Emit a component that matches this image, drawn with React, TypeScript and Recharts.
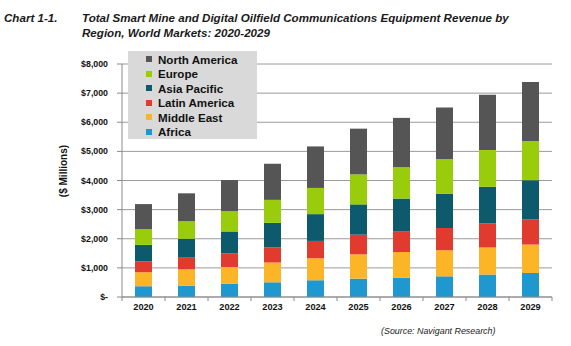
import React from 'react';
import { BarChart, Bar, XAxis, YAxis, CartesianGrid, Legend } from 'recharts';

const years = ['2020', '2021', '2022', '2023', '2024', '2025', '2026', '2027', '2028', '2029'];
const africa = [370, 390, 450, 505, 575, 630, 665, 710, 770, 825];
const middleEast = [480, 560, 580, 680, 755, 835, 880, 895, 930, 975];
const latinAmerica = [370, 400, 470, 515, 595, 675, 700, 765, 825, 860];
const asiaPacific = [570, 650, 750, 845, 920, 1040, 1135, 1180, 1260, 1350];
const europe = [540, 600, 700, 790, 900, 1030, 1075, 1190, 1260, 1350];
const northAmerica = [860, 960, 1065, 1240, 1425, 1570, 1695, 1770, 1900, 2025];
const yTicks = [0, 1000, 2000, 3000, 4000, 5000, 6000, 7000, 8000];

const series = [
  { key: 'africa', name: 'Africa', color: '#1f98cf' },
  { key: 'middleEast', name: 'Middle East', color: '#fcb526' },
  { key: 'latinAmerica', name: 'Latin America', color: '#e13b2f' },
  { key: 'asiaPacific', name: 'Asia Pacific', color: '#0d5a6d' },
  { key: 'europe', name: 'Europe', color: '#99cc0a' },
  { key: 'northAmerica', name: 'North America', color: '#555555' },
];

const data = years.map((year, i) => ({
  year,
  africa: africa[i],
  middleEast: middleEast[i],
  latinAmerica: latinAmerica[i],
  asiaPacific: asiaPacific[i],
  europe: europe[i],
  northAmerica: northAmerica[i],
}));

const FONT = '"Liberation Sans", Arial, sans-serif';
const AXIS = '#8a8a8a';

const fmt = (v: number) => (v === 0 ? '$-' : '$' + v.toLocaleString('en-US'));

const XTick = (props: any) => {
  const { x, y, payload, index, visibleTicksCount } = props;
  const half = payload && typeof payload.offset === 'number' && payload.offset > 0 ? payload.offset : 21.5;
  const ay = y - 6;
  const last = index === (visibleTicksCount ?? years.length) - 1;
  return (
    <g>
      <line x1={x - half} x2={x - half} y1={ay} y2={ay + 4} stroke={AXIS} />
      {last && <line x1={x + half} x2={x + half} y1={ay} y2={ay + 4} stroke={AXIS} />}
      <text x={x} y={y} dy="0.71em" textAnchor="middle" fontFamily={FONT} fontWeight="bold" fontSize={9.2} fill="#111">
        {payload.value}
      </text>
    </g>
  );
};

const LegendBox = () => (
  <div
    style={{
      width: 129,
      height: 88,
      background: '#d9d9d9',
      boxSizing: 'border-box',
      paddingTop: 1,
      fontFamily: FONT,
      fontWeight: 'bold',
      fontSize: 11.6,
      color: '#111',
    }}
  >
    {[...series].reverse().map((s) => (
      <div key={s.key} style={{ display: 'flex', alignItems: 'center', height: 14.5 }}>
        <span style={{ display: 'inline-block', width: 6, height: 6, background: s.color, marginLeft: 18, marginRight: 6 }} />
        <span>{s.name}</span>
      </div>
    ))}
  </div>
);

export default function App() {
  return (
    <div style={{ position: 'absolute', left: 0, top: 0, width: 571, height: 346, background: '#fff' }}>
      <BarChart
        width={571}
        height={346}
        data={data}
        margin={{ top: 64, right: 19, left: 62, bottom: 29 }}
        barSize={17}
      >
        <CartesianGrid horizontal vertical={false} stroke="#9a9a9a" />
        <XAxis
          dataKey="year"
          height={20}
          tickLine={false}
          tickSize={0}
          tickMargin={6}
          axisLine={{ stroke: AXIS }}
          tick={<XTick />}
          interval={0}
        />
        <YAxis
          width={60}
          domain={[0, 8000]}
          ticks={yTicks}
          tickFormatter={fmt}
          tickSize={5}
          tickMargin={9}
          tickLine={{ stroke: AXIS }}
          axisLine={{ stroke: AXIS }}
          tick={{ fontFamily: FONT, fontWeight: 'bold', fontSize: 8.8, fill: '#111' }}
          interval={0}
        />
        <YAxis yAxisId="right" orientation="right" width={0} tick={false} tickLine={false} axisLine={{ stroke: '#9a9a9a' }} />
        <Legend
          layout="vertical"
          align="center"
          verticalAlign="middle"
          content={() => <LegendBox />}
          wrapperStyle={{ position: 'absolute', left: 128, top: 51, width: 129, height: 88 }}
        />
        {series.map((s) => (
          <Bar key={s.key} dataKey={s.key} name={s.name} stackId="a" fill={s.color} isAnimationActive={false} />
        ))}
      </BarChart>
      <svg width={571} height={346} style={{ position: 'absolute', left: 0, top: 0, pointerEvents: 'none' }}>
        <g fontFamily={FONT} fontWeight="bold" fontStyle="italic" fontSize={11.6} fill="#1a1a1a">
          <text x={4} y={22}>Chart 1-1.</text>
          <text x={82} y={22}>Total Smart Mine and Digital Oilfield Communications Equipment Revenue by</text>
          <text x={82} y={36.5}>Region, World Markets: 2020-2029</text>
        </g>
        <text
          x={63.5}
          y={171}
          transform="rotate(-90 63.5 171)"
          textAnchor="middle"
          dominantBaseline="central"
          fontFamily={FONT}
          fontWeight="bold"
          fontSize={10}
          fill="#111"
        >
          ($ Millions)
        </text>
        <text x={381} y={334} fontFamily={FONT} fontStyle="italic" fontSize={8.9} fill="#222">
          (Source: Navigant Research)
        </text>
      </svg>
    </div>
  );
}
